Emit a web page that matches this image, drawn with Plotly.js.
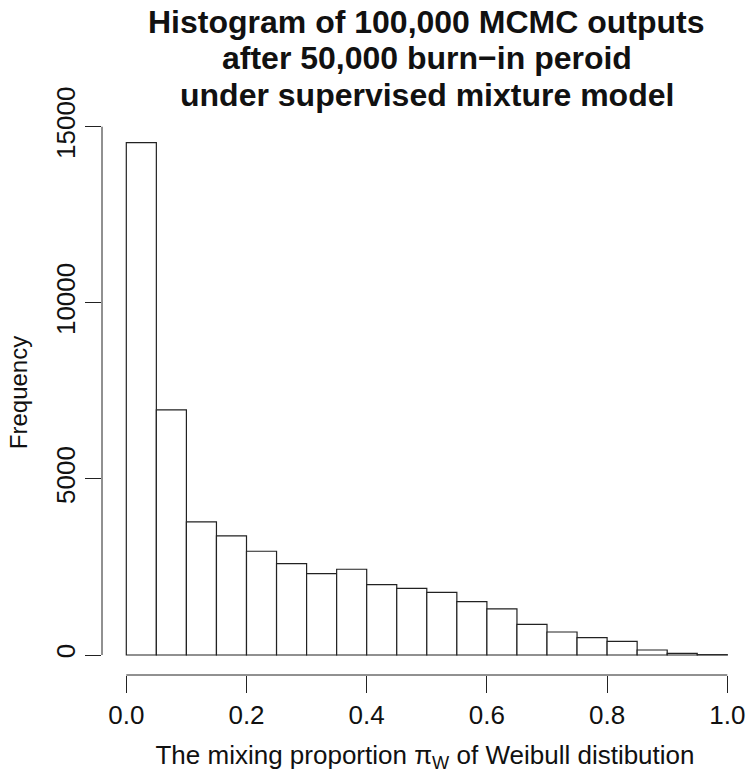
<!DOCTYPE html>
<html>
<head>
<meta charset="utf-8">
<script src="https://cdn.plot.ly/plotly-3.0.1.min.js"></script>
<style>html,body{margin:0;padding:0;background:#fff;}#chart{width:748px;height:776px;}</style>
</head>
<body>
<div id="chart"></div>
<script>
// Histogram of MCMC outputs: bins of width 0.05 on [0, 1]
const binStarts = [0.00, 0.05, 0.10, 0.15, 0.20, 0.25, 0.30, 0.35, 0.40, 0.45,
                   0.50, 0.55, 0.60, 0.65, 0.70, 0.75, 0.80, 0.85, 0.90, 0.95];
const binWidth = 0.05;
const frequencies = [14545, 6960, 3780, 3380, 2945, 2595, 2310, 2435, 1998, 1894,
                     1780, 1515, 1307, 871, 653, 492, 388, 142, 48, 10];
const xTicks = [0, 0.2, 0.4, 0.6, 0.8, 1.0];
const xTickLabels = ["0.0", "0.2", "0.4", "0.6", "0.8", "1.0"];
const yTicks = [0, 5000, 10000, 15000];
const yTickLabels = ["0", "5000", "10000", "15000"];
const titleLines = ["Histogram of 100,000 MCMC outputs",
                    "after 50,000 burn\u2212in peroid",
                    "under supervised mixture model"];
const xTitle = "The mixing proportion \u03c0<sub>W</sub> of Weibull distibution";
const yTitle = "Frequency";

const FONT = "Liberation Sans, Arial, Helvetica, sans-serif";
const INK = "#222";

const binCenters = binStarts.map(s => s + binWidth / 2);

const trace = {
  type: "bar",
  x: binCenters,
  y: frequencies,
  width: binStarts.map(() => binWidth),
  marker: { color: "#ffffff", line: { color: INK, width: 1.2 } },
  hoverinfo: "x+y",
  showlegend: false
};

const titleY = [22, 58, 95];
const annotations = titleLines.map((t, i) => ({
  text: "<b>" + t + "</b>",
  xref: "paper", yref: "paper",
  x: (426.5 - 102) / 646, xanchor: "center",
  y: 1 - (titleY[i] - 110) / 565, yanchor: "middle",
  showarrow: false,
  font: { family: FONT, size: 32, color: "#111" }
}));

const layout = {
  width: 748, height: 776,
  margin: { l: 102, r: 0, t: 110, b: 101 },
  paper_bgcolor: "#ffffff",
  plot_bgcolor: "#ffffff",
  font: { family: FONT, color: "#111" },
  bargap: 0,
  xaxis: {
    range: [-0.04043, 1.03444],
    tickmode: "array", tickvals: xTicks, ticktext: xTickLabels,
    ticks: "outside", ticklen: 17, tickcolor: INK, tickwidth: 1,
    tickfont: { family: FONT, size: 26, color: "#111" },
    showgrid: false, zeroline: false, showline: false,
    title: { text: xTitle, font: { family: FONT, size: 26, color: "#111" }, standoff: 16 },
    automargin: false, fixedrange: true
  },
  yaxis: {
    range: [-567.9, 15474],
    tickmode: "array", tickvals: yTicks, ticktext: yTickLabels,
    tickangle: -90,
    ticks: "outside", ticklen: 16, tickcolor: INK, tickwidth: 1,
    tickfont: { family: FONT, size: 26, color: "#111" },
    showgrid: false, zeroline: false, showline: false,
    title: { text: yTitle, font: { family: FONT, size: 24, color: "#111" }, standoff: 16 },
    automargin: false, fixedrange: true
  },
  shapes: [
    { type: "line", xref: "x", yref: "paper", x0: xTicks[0], x1: xTicks[xTicks.length - 1], y0: 0, y1: 0,
      line: { color: INK, width: 1 } },
    { type: "line", xref: "paper", yref: "y", x0: 0, x1: 0, y0: yTicks[0], y1: yTicks[yTicks.length - 1],
      line: { color: INK, width: 1 } }
  ],
  annotations: annotations
};

Plotly.newPlot("chart", [trace], layout, { displayModeBar: false, staticPlot: true });
</script>
</body>
</html>
